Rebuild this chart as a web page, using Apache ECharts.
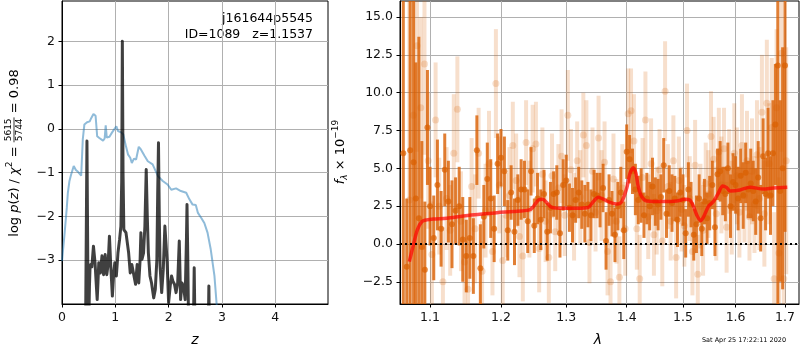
<!DOCTYPE html>
<html>
<head>
<meta charset="utf-8">
<script src="https://cdn.jsdelivr.net/npm/echarts@6/dist/echarts.min.js"></script>
<style>
  html, body { margin: 0; padding: 0; background: #fff; }
  #main { width: 800px; height: 350px; }
</style>
</head>
<body>
<div id="main"></div>
<script>
// ---- left panel: log p(z) (blue) and chi2 curve (dark) ----
var zBlue = [0, 0.05, 0.09, 0.11, 0.14, 0.17, 0.19, 0.22, 0.26, 0.30, 0.33, 0.36, 0.39, 0.42, 0.47, 0.52, 0.55, 0.59, 0.63, 0.66,
  0.70, 0.77, 0.80, 0.82, 0.84, 0.89, 0.94, 1.02, 1.05, 1.11, 1.15, 1.20, 1.24, 1.28, 1.31, 1.35, 1.39, 1.44, 1.48, 1.55,
  1.61, 1.70, 1.80, 1.89, 1.98, 2.05, 2.14, 2.23, 2.33, 2.39, 2.45, 2.51, 2.55, 2.61, 2.67, 2.73, 2.79, 2.86, 2.90, 2.95];
var logpBlue = [-3.02, -2.37, -1.8, -1.46, -1.19, -1.05, -0.97, -0.85, -0.94, -0.98, -1.0, -1.07, -0.24, 0.1, 0.15, 0.17, 0.25, 0.34, 0.30, -0.17,
  -0.21, -0.27, -0.22, 0.08, -0.2, -0.18, -0.08, 0.06, -0.05, -0.08, -0.13, -0.4, -0.59, -0.66, -0.78, -0.68, -0.70, -0.41, -0.47, -0.62,
  -0.74, -0.81, -1.08, -1.19, -1.27, -1.39, -1.36, -1.42, -1.46, -1.61, -1.73, -1.74, -1.92, -2.03, -2.15, -2.37, -2.75, -3.36, -3.99, -4.6];

var zBlack = [0.44, 0.468, 0.495, 0.515, 0.525, 0.54, 0.56, 0.59, 0.62, 0.645, 0.66, 0.675, 0.69, 0.72, 0.75, 0.78, 0.81, 0.84, 0.865, 0.89,
  0.915, 0.945, 0.97, 0.99, 1.02, 1.05, 1.08, 1.105, 1.12, 1.132, 1.145, 1.16, 1.20, 1.25, 1.28, 1.31, 1.345, 1.38, 1.41, 1.44,
  1.465, 1.48, 1.50, 1.53, 1.555, 1.58, 1.60, 1.62, 1.65, 1.68, 1.72, 1.75, 1.78, 1.795, 1.81, 1.825, 1.84, 1.87, 1.90, 1.93,
  1.97, 2.0, 2.03, 2.055, 2.08, 2.11, 2.14, 2.17, 2.20, 2.225, 2.25, 2.28, 2.31, 2.335, 2.345, 2.36, 2.375, 2.40, 2.46, 2.48,
  2.50, 2.74, 2.755, 2.77];
var logpBlack = [-5, -0.28, -5, -3.6, -3.2, -3.1, -3.15, -2.68, -3.06, -3.6, -3.9, -3.5, -3.06, -3.29, -2.9, -3.33, -2.87, -3.33, -3.1, -2.45,
  -3.14, -3.82, -3.3, -3.06, -3.36, -2.83, -2.53, -2.22, -1.2, 2.0, -1.0, -2.3, -2.37, -2.83, -3.29, -3.1, -3.1, -3.55, -3.1, -3.52,
  -3.0, -2.37, -2.98, -2.83, -2.22, -0.93, -2.0, -2.83, -3.36, -3.52, -3.86, -3.67, -2.98, -1.5, -0.32, -2.0, -3.14, -3.74, -3.21, -2.22,
  -2.98, -3.97, -3.59, -3.36, -3.48, -3.55, -3.74, -3.52, -2.56, -3.9, -3.52, -3.6, -3.9, -2.5, -1.73, -3.0, -4.5, -5, -5, -3.17,
  -5, -5, -3.59, -5];

var zTicks = [0, 1, 2, 3, 4];
var logpTicks = [-3, -2, -1, 0, 1, 2];

// ---- right panel: spectrum ----
var darkLam = [1.0645, 1.069, 1.0735, 1.078, 1.081, 1.085, 1.089, 1.093, 1.0965,
  1.100, 1.105, 1.110, 1.115, 1.120, 1.125, 1.130, 1.135, 1.140, 1.145,
  1.150, 1.155, 1.160, 1.165, 1.170, 1.175, 1.180, 1.185, 1.190, 1.195,
  1.200, 1.205, 1.210, 1.215, 1.220, 1.225, 1.230, 1.235, 1.240, 1.245,
  1.250, 1.255, 1.260, 1.265, 1.270, 1.275, 1.280, 1.285, 1.290, 1.295,
  1.300, 1.305, 1.310, 1.315, 1.320, 1.325, 1.330, 1.335, 1.340, 1.345,
  1.350, 1.355, 1.360, 1.365, 1.370, 1.375, 1.380, 1.385, 1.390, 1.395,
  1.400, 1.405, 1.410, 1.415, 1.420, 1.425, 1.430, 1.435, 1.440, 1.445,
  1.450, 1.455, 1.460, 1.465, 1.470, 1.475, 1.480, 1.485, 1.490, 1.495,
  1.500, 1.505, 1.510, 1.515, 1.520, 1.525, 1.530, 1.535, 1.540, 1.545,
  1.550, 1.555, 1.560, 1.565, 1.570, 1.575, 1.580, 1.585, 1.590, 1.595,
  1.600, 1.605, 1.610, 1.615, 1.620, 1.625, 1.630, 1.635, 1.640, 1.645,
  1.650, 1.655, 1.660, 1.665, 1.670, 1.675, 1.680, 1.685, 1.690, 1.695, 1.700];
var darkFlux = [6.0, -1.5, 6.2, 5.4, 3.0, 1.7, -0.2, -1.7, 7.7,
  2.5, 0.4, 3.9, 1.0, 4.9, 2.8, 1.3, 2.2, 2.5, 0.3,
  -0.8, 0.4, -0.8, 6.2, -1.6, 1.8, 4.3, 3.0, 1.0, 5.3,
  5.7, 4.8, 0.9, 3.4, 0.8, 2.9, 3.6, 3.6, 1.5, 4.8,
  1.2, 3.0, 1.6, 3.3, 0.8, 2.4, 3.3, 3.4, 0.7, 3.9,
  4.2, 2.4, 1.9, 2.9, 3.4, 2.6, 2.0, 2.6, 1.9, 3.3,
  3.2, 2.9, 3.7, 0.2, 2.9, 2.0, 0.6, 2.5, 3.4, 0.9,
  6.1, 5.6, 4.8, 3.6, 2.9, 3.2, 1.9, 3.0, 2.5, 3.8,
  2.8, 2.6, 3.1, 5.2, 2.0, 3.5, 2.7, 3.0, 1.6, 3.4,
  2.9, 0.7, 3.6, 2.6, 0.6, 1.3, 3.0, 1.0, 2.8, 1.7,
  2.7, 3.9, 1.1, 4.6, 4.8, 3.5, 3.3, 5.0, 2.5, 4.1,
  3.9, 3.0, 4.5, 3.2, 4.7, 3.6, 4.0, 3.5, 2.8, 4.4,
  1.7, 5.8, 3.3, 6.0, 3.2, 6.0, 7.9, 11.8, 3.5, 5.0, 11.8];
var darkErr = [22, 4.5, 16, 14, 9, 12, 7, 4.5, 3.8,
  2.6, 2.8, 3.0, 2.5, 2.4, 2.7, 2.9, 2.2, 2.6, 2.8,
  2.4, 2.7, 2.5, 2.3, 2.9, 2.1, 2.4, 2.6, 2.2, 2.0,
  1.9, 2.3, 2.0, 1.8, 2.2, 1.7, 2.0, 1.9, 2.1, 1.6,
  1.8, 1.7, 2.0, 1.6, 1.9, 1.7, 1.5, 1.8, 1.6, 1.7,
  1.7, 1.6, 1.8, 1.5, 1.7, 1.6, 1.9, 1.5, 1.7, 1.6,
  1.5, 1.8, 1.6, 1.9, 1.7, 1.5, 1.8, 1.6, 1.7, 1.9,
  1.8, 1.6, 1.5, 1.7, 1.6, 1.8, 1.5, 1.7, 1.6, 1.9,
  1.6, 1.7, 1.5, 1.8, 1.6, 1.7, 1.9, 1.5, 1.8, 1.6,
  1.7, 1.6, 1.8, 1.5, 1.7, 1.9, 1.6, 1.8, 1.5, 1.7,
  1.8, 1.6, 1.9, 1.7, 2.0, 1.6, 1.8, 1.7, 2.1, 1.9,
  1.9, 2.1, 1.8, 2.2, 2.0, 1.9, 2.3, 2.0, 2.2, 2.4,
  2.2, 2.5, 2.4, 3.0, 2.6, 3.5, 4.0, 20, 6, 8, 11];

var lightLam = [1.0725, 1.0775, 1.0825, 1.0875, 1.0925, 1.0975,
  1.1025, 1.1075, 1.1125, 1.1175, 1.1225, 1.1275, 1.1325, 1.1375, 1.1425, 1.1475,
  1.1525, 1.1575, 1.1625, 1.1675, 1.1725, 1.1775, 1.1825, 1.1875, 1.1925, 1.1975,
  1.2025, 1.2075, 1.2125, 1.2175, 1.2225, 1.2275, 1.2325, 1.2375, 1.2425, 1.2475,
  1.2525, 1.2575, 1.2625, 1.2675, 1.2725, 1.2775, 1.2825, 1.2875, 1.2925, 1.2975,
  1.3025, 1.3075, 1.3125, 1.3175, 1.3225, 1.3275, 1.3325, 1.3375, 1.3425, 1.3475,
  1.3525, 1.3575, 1.3625, 1.3675, 1.3725, 1.3775, 1.3825, 1.3875, 1.3925, 1.3975,
  1.4025, 1.4075, 1.4125, 1.4175, 1.4225, 1.4275, 1.4325, 1.4375, 1.4425, 1.4475,
  1.4525, 1.4575, 1.4625, 1.4675, 1.4725, 1.4775, 1.4825, 1.4875, 1.4925, 1.4975,
  1.5025, 1.5075, 1.5125, 1.5175, 1.5225, 1.5275, 1.5325, 1.5375, 1.5425, 1.5475,
  1.5525, 1.5575, 1.5625, 1.5675, 1.5725, 1.5775, 1.5825, 1.5875, 1.5925, 1.5975,
  1.6025, 1.6075, 1.6125, 1.6175, 1.6225, 1.6275, 1.6325, 1.6375, 1.6425, 1.6475,
  1.6525, 1.6575, 1.6625, 1.6675, 1.6725, 1.6775, 1.6825, 1.6875, 1.6925, 1.6975,
  1.7025];
var lightFlux = [2.9, 8.5, 13.1, 9.0, 11.9, 5.5,
  -0.7, 8.2, 2.5, -2.5, 3.0, 0.9, 6.0, 8.9, 1.5, -1.2,
  -3.0, 3.8, 1.0, 6.0, -1.8, 2.2, 5.3, -0.5, 10.6, 3.9,
  -1.1, 1.9, 3.2, 6.5, 4.2, 0.5, -0.8, 6.7, 2.3, 6.3,
  6.6, -0.3, 4.6, 1.5, -0.9, 4.5, 0.8, 3.7, 5.8, 1.9,
  8.5, 4.9, 1.8, 5.5, 3.1, 7.2, 6.5, 0.1, 4.8, 2.1,
  7.0, 3.2, 5.4, -0.5, -2.5, 4.3, 1.5, -2.2, 3.7, 1.0,
  8.6, 8.8, 6.8, 1.0, -2.3, 4.4, 8.2, 1.8, 5.3, 0.6,
  2.2, 4.9, 0.2, 10.1, 3.8, 1.5, 5.5, -0.9, 4.2, 2.3,
  1.2, 7.5, 3.0, -0.5, 5.2, -2.0, 2.5, 0.9, 4.0, 3.3,
  7.1, 5.6, 2.0, 6.1, 3.9, 6.3, 1.1, 4.8, 2.4, 6.0,
  4.5, 2.1, 6.5, 3.2, 5.5, 1.8, 4.8, 2.6, 5.9, 3.0,
  8.7, 2.0, 9.3, 5.3, 7.7, -2.3, 9.0, -0.6, 12.6, -2.3,
  5.5];
var lightErr = [14, 8, 7, 6, 6, 4.5,
  3.5, 3.8, 3.2, 3.6, 3.4, 3.0, 3.9, 3.5, 3.3, 3.1,
  3.4, 3.2, 3.6, 3.0, 3.3, 3.1, 3.5, 2.9, 3.6, 3.2,
  3.0, 2.8, 3.2, 2.9, 3.1, 2.7, 3.0, 2.8, 3.2, 2.9,
  2.8, 2.9, 3.1, 2.7, 3.0, 2.8, 2.6, 2.9, 3.1, 2.7,
  3.0, 2.7, 2.9, 2.6, 3.1, 2.8, 3.0, 2.7, 2.9, 2.6,
  2.8, 3.0, 2.7, 2.9, 2.6, 3.0, 2.8, 2.7, 2.9, 3.1,
  3.0, 2.8, 3.1, 2.7, 2.9, 2.6, 3.2, 2.8, 3.0, 2.7,
  2.9, 2.7, 3.0, 3.3, 2.8, 2.6, 3.0, 2.7, 2.9, 2.8,
  2.7, 3.1, 2.8, 2.9, 3.0, 2.6, 2.8, 3.0, 2.7, 2.9,
  3.0, 2.8, 3.1, 2.9, 3.2, 2.7, 3.0, 2.8, 3.1, 3.3,
  3.2, 3.0, 3.4, 3.1, 3.3, 2.9, 3.5, 3.2, 3.6, 3.4,
  3.8, 3.5, 4.2, 4.0, 4.6, 4.4, 5.2, 5.0, 6.5, 6.0,
  7.5];

var modelLam = [1.0724, 1.0777, 1.0830, 1.0888, 1.0956, 1.1044, 1.1228, 1.1458, 1.1695, 1.1937, 1.2182, 1.2425, 1.2486,
  1.2562, 1.2630, 1.2692, 1.2770, 1.2954, 1.3168, 1.3356, 1.3439, 1.3522, 1.3604, 1.3717, 1.3830, 1.3915,
  1.4000, 1.4057, 1.4114, 1.4160, 1.4200, 1.4260, 1.4348, 1.4643, 1.4885, 1.5038, 1.5130, 1.5192, 1.5255,
  1.5330, 1.5392, 1.5474, 1.5569, 1.5664, 1.5749, 1.5827, 1.5892, 1.6087, 1.6285, 1.6554, 1.6758, 1.7047];
var modelFlux = [-1.17, -0.07, 0.93, 1.47, 1.59, 1.65, 1.70, 1.85, 1.96, 2.07, 2.14, 2.25, 2.47,
  2.90, 2.96, 2.73, 2.42, 2.36, 2.36, 2.42, 2.80, 3.09, 2.96, 2.75, 2.64, 2.80,
  3.68, 4.67, 5.04, 4.67, 3.79, 3.13, 2.84, 2.80, 2.84, 2.95, 2.90, 2.51, 1.92,
  1.54, 1.85, 2.47, 2.80, 3.35, 3.83, 3.72, 3.50, 3.57, 3.75, 3.63, 3.70, 3.75];

var lamTicks = [1.1, 1.2, 1.3, 1.4, 1.5, 1.6, 1.7];
var fluxTicks = [-2.5, 0, 2.5, 5, 7.5, 10, 12.5, 15];

// axis limits
var lamMin = 1.0602, lamMax = 1.7294;
var fluxMin = -3.97, fluxMax = 16.06;

var FONT = '"DejaVu Sans", sans-serif';
var minus = function (s) { return String(s).replace('-', '\u2212'); };

function zip(xs, ys) {
  return xs.map(function (x, i) { return [x, ys[i]]; });
}
function specRows(lam, flux, err) {
  // x axis is drawn in ln(lambda)
  return lam.map(function (l, i) { return [Math.log(l), flux[i], err[i]]; });
}
function errBars(rows, color, width) {
  return {
    type: 'custom', xAxisIndex: 1, yAxisIndex: 1, silent: true,
    encode: { x: 0, y: 1 },
    data: rows,
    renderItem: function (params, api) {
      var x = api.value(0), f = api.value(1), e = api.value(2);
      var lo = Math.max(f - e, fluxMin), hi = Math.min(f + e, fluxMax);
      var a = api.coord([x, lo]), b = api.coord([x, hi]);
      return {
        type: 'line',
        shape: { x1: a[0], y1: a[1], x2: b[0], y2: b[1] },
        style: { stroke: color, lineWidth: width }
      };
    }
  };
}

// text width helper for the stacked fraction in the y label
var ctx = document.createElement('canvas').getContext('2d');
function tw(t, font) { ctx.font = font; return ctx.measureText(t).width; }

var FS = 13;
var fN = FS + 'px "DejaVu Sans"', fI = 'italic ' + FS + 'px "DejaVu Sans"', fS = '9px "DejaVu Sans"';
var w1 = tw('log ', fN) + tw('p', fI) + tw('(', fN) + tw('z', fI) + tw(') / ', fN) + tw('\u03c7', fI) + tw('2', fS) + tw(' = ', fN);
var wf = Math.max(tw('5615', fS), tw('5744', fS)) + 2;
var w3 = tw(' = 0.98', fN);
var T = w1 + wf + w3;
var x0 = -T / 2;

var richMain = {
  n: { fontSize: FS, fontFamily: FONT, color: '#000', lineHeight: 18 },
  i: { fontSize: FS, fontFamily: FONT, fontStyle: 'italic', color: '#000', lineHeight: 18 },
  s: { fontSize: 9, fontFamily: FONT, color: '#000', verticalAlign: 'top', lineHeight: 9 },
  b: { fontSize: 9, fontFamily: FONT, fontStyle: 'italic', color: '#000', verticalAlign: 'bottom', lineHeight: 9 }
};

var chart = echarts.init(document.getElementById('main'), null, { renderer: 'canvas' });

var axisCommon = {
  axisLine: { show: true, onZero: false, lineStyle: { color: '#000', width: 1 } },
  axisTick: { show: true, length: 3.5, lineStyle: { color: '#000', width: 1 } },
  splitLine: { show: true, lineStyle: { color: '#b0b0b0', width: 1 } },
  axisLabel: { color: '#111', fontSize: 12.5, fontFamily: FONT }
};
function ax(extra) {
  var o = JSON.parse(JSON.stringify(axisCommon));
  for (var k in extra) {
    if (typeof extra[k] === 'object' && o[k] && !Array.isArray(extra[k])) {
      for (var j in extra[k]) o[k][j] = extra[k][j];
    } else {
      o[k] = extra[k];
    }
  }
  return o;
}

chart.setOption({
  animation: false,
  backgroundColor: '#fff',
  grid: [
    { left: 62, top: 1, width: 266, height: 303, show: true, borderColor: '#000', borderWidth: 1, outerBoundsMode: 'none', containLabel: false },
    { left: 400, top: 1, width: 399, height: 303, show: true, borderColor: '#000', borderWidth: 1, outerBoundsMode: 'none', containLabel: false }
  ],
  xAxis: [
    ax({
      type: 'value', gridIndex: 0, min: 0, max: 4.99,
      axisTick: { customValues: zTicks },
      axisLabel: { customValues: zTicks, margin: 7, formatter: function (v) { return minus(Math.round(v)); } }
    }),
    ax({
      type: 'value', gridIndex: 1, min: Math.log(lamMin), max: Math.log(lamMax),
      axisTick: { customValues: lamTicks.map(Math.log) },
      axisLabel: { customValues: lamTicks.map(Math.log), margin: 7, formatter: function (v) { return Math.exp(v).toFixed(1); } }
    })
  ],
  yAxis: [
    ax({
      type: 'value', gridIndex: 0, min: -4, max: 2.92,
      axisTick: { customValues: logpTicks },
      axisLabel: { customValues: logpTicks, margin: 7, formatter: function (v) { return minus(Math.round(v)); } }
    }),
    ax({
      type: 'value', gridIndex: 1, min: fluxMin, max: fluxMax,
      axisTick: { customValues: fluxTicks },
      axisLabel: { customValues: fluxTicks, margin: 7, formatter: function (v) { return minus(v.toFixed(1)); } }
    })
  ],
  series: [
    {
      type: 'line', xAxisIndex: 0, yAxisIndex: 0, data: zip(zBlue, logpBlue),
      showSymbol: false, symbol: 'none', clip: true,
      lineStyle: { color: 'rgba(31,119,180,0.5)', width: 2 }
    },
    {
      type: 'line', xAxisIndex: 0, yAxisIndex: 0, data: zip(zBlack, logpBlack),
      showSymbol: false, symbol: 'none', clip: true,
      lineStyle: { color: 'rgba(0,0,0,0.75)', width: 3, join: 'round' }
    },
    errBars(specRows(lightLam, lightFlux, lightErr), 'rgba(217,95,2,0.2)', 4),
    {
      type: 'scatter', xAxisIndex: 1, yAxisIndex: 1, silent: true, clip: true,
      data: specRows(lightLam, lightFlux, lightErr), symbolSize: 7,
      itemStyle: { color: 'rgba(217,95,2,0.25)' }
    },
    errBars(specRows(darkLam, darkFlux, darkErr), 'rgba(217,95,2,0.8)', 3),
    {
      type: 'scatter', xAxisIndex: 1, yAxisIndex: 1, silent: true, clip: true,
      data: specRows(darkLam, darkFlux, darkErr), symbolSize: 6,
      itemStyle: { color: 'rgba(217,95,2,0.9)' }
    },
    {
      type: 'line', xAxisIndex: 1, yAxisIndex: 1, smooth: 0.3,
      data: modelLam.map(function (l, i) { return [Math.log(l), modelFlux[i]]; }),
      showSymbol: false, symbol: 'none',
      lineStyle: { color: 'rgba(255,0,0,0.7)', width: 3.5 },
      markLine: {
        silent: true, symbol: ['none', 'none'], label: { show: false },
        lineStyle: { color: '#000', type: [2, 3], width: 2 },
        data: [{ yAxis: 0 }]
      }
    }
  ],
  graphic: [
    { type: 'text', x: 313, y: 19, style: { text: 'j161644p5545', fontSize: 12.5, fontFamily: FONT, fill: '#000', align: 'right', verticalAlign: 'middle' } },
    { type: 'text', x: 313, y: 34.5, style: { text: 'ID=1089   z=1.1537', fontSize: 12.5, fontFamily: FONT, fill: '#000', align: 'right', verticalAlign: 'middle' } },
    { type: 'text', x: 195, y: 340, style: { text: 'z', fontSize: 14, fontStyle: 'italic', fontFamily: FONT, fill: '#000', align: 'center', verticalAlign: 'middle' } },
    { type: 'text', x: 598, y: 340, style: { text: '\u03bb', fontSize: 14, fontStyle: 'italic', fontFamily: FONT, fill: '#000', align: 'center', verticalAlign: 'middle' } },
    { type: 'text', x: 744, y: 340, style: { text: 'Sat Apr 25 17:22:11 2020', fontSize: 6.5, fontFamily: FONT, fill: '#000', align: 'center', verticalAlign: 'middle' } },
    {
      type: 'group', x: 14.5, y: 153, rotation: Math.PI / 2,
      children: [
        { type: 'text', x: x0, y: 0, style: { text: '{n|log }{i|p}{n|(}{i|z}{n|) / }{i|\u03c7}{s|2}{n| = }', rich: richMain, align: 'left', verticalAlign: 'middle' } },
        { type: 'text', x: x0 + w1 + wf / 2, y: -5.5, style: { text: '5615', fontSize: 9, fontFamily: FONT, fill: '#000', align: 'center', verticalAlign: 'middle' } },
        { type: 'line', shape: { x1: x0 + w1, y1: -0.5, x2: x0 + w1 + wf, y2: -0.5 }, style: { stroke: '#000', lineWidth: 0.8 } },
        { type: 'text', x: x0 + w1 + wf / 2, y: 5, style: { text: '5744', fontSize: 9, fontFamily: FONT, fill: '#000', align: 'center', verticalAlign: 'middle' } },
        { type: 'text', x: x0 + w1 + wf, y: 0, style: { text: ' = 0.98', fontSize: FS, fontFamily: FONT, fill: '#000', align: 'left', verticalAlign: 'middle' } }
      ]
    },
    {
      type: 'group', x: 340.5, y: 152, rotation: Math.PI / 2,
      children: [
        { type: 'text', x: 0, y: 0, style: { text: '{i|f}{b|\u03bb}{n| \u00d7 10}{s|\u221219}', rich: richMain, align: 'center', verticalAlign: 'middle' } }
      ]
    }
  ]
});
</script>
</body>
</html>
